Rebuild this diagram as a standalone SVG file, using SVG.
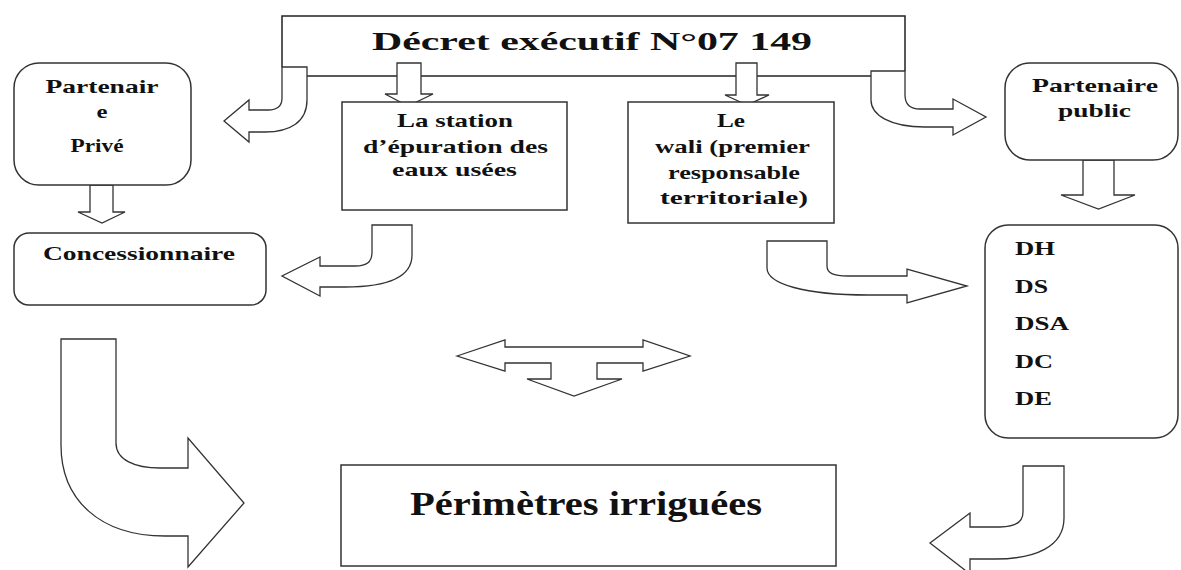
<svg xmlns="http://www.w3.org/2000/svg" width="1181" height="570" viewBox="0 0 1181 570">
<style>
.box{fill:#fff;stroke:#333;stroke-width:1.5}
.arr{fill:#fff;stroke:#333;stroke-width:1.3;stroke-linejoin:miter}
.ln{fill:none;stroke:#222;stroke-width:1.5}
text{font-family:"Liberation Serif","Times New Roman",serif;font-weight:bold;fill:#111}
.t{font-size:19.5px}
.c{text-anchor:middle}
</style>
<rect width="1181" height="570" fill="#fff"/>
<g id="decret">
<path class="ln" d="M282,67 L282,16 L905,16 L905,71"/>
<text x="372" y="50" font-size="26" textLength="440" lengthAdjust="spacingAndGlyphs">Décret exécutif N°07 149</text>
</g>
<g id="connectors">
<path class="ln" d="M307,76 L871,76"/>
<path class="arr" d="M282,67 L307,67 L307,100 C307,122 290,132 265,132 L249,132 L249,142 L224,121 L249,100 L249,110 L268,110 C278,110 282,105 282,98 Z"/>
<path class="arr" d="M397,63 L421,63 L421,94 L433,94 L408,106 L385,94 L397,94 Z"/>
<path class="arr" d="M736,63 L757,63 L757,95 L769,95 L747,105 L725,95 L736,95 Z"/>
<path class="arr" d="M871,71 L905,71 L905,95 C905,104 910,109 920,109 L953,109 L953,99 L986,117 L953,135 L953,127 L925,127 C890,127 871,115 871,100 Z"/>
<path class="arr" d="M90,185 L113,185 L113,212 L125,212 L102,223 L78,212 L90,212 Z"/>
<path class="arr" d="M1083,160 L1114,160 L1114,195 L1135,195 L1098.5,209 L1061,195 L1083,195 Z"/>
<path class="arr" d="M372,225 L412,225 L412,255 C412,279 385,287 345,287 L320,287 L320,296 L282,276 L320,257 L320,266 L355,266 C367,266 372,262 372,252 Z"/>
<path class="arr" d="M767,241 L827,241 L827,266 C827,273 833,276 848,276 L907,276 L907,269 L967,286 L907,303 L907,295 L868,295 C805,295 767,284 767,268 Z"/>
<path class="arr" d="M457,356 L505,340 L505,347 L643,347 L643,340 L690,356 L643,371 L643,363 L597,363 L597,379 L622,379 L574,396 L527,379 L551,379 L551,363 L505,363 L505,371 Z"/>
<path class="arr" d="M61,339 L116,339 L116,443 C116,460 135,468 160,468 L188,468 L188,438 L244,503 L188,567 L188,536 L165,536 C100,536 61,500 61,445 Z"/>
<path class="arr" d="M1023,466 L1064,466 L1064,518 C1064,547 1035,559 995,559 L970,559 L970,574 L930,543 L970,513 L970,527 L1000,527 C1015,527 1023,522 1023,512 Z"/>
</g>
<g id="partenaire-prive">
<rect class="box" x="14" y="63" width="177" height="122" rx="25"/>
<text class="t c" x="102" y="93" textLength="113" lengthAdjust="spacingAndGlyphs">Partenair</text>
<text class="t c" x="102" y="118" textLength="11" lengthAdjust="spacingAndGlyphs">e</text>
<text class="t c" x="97" y="152" textLength="53" lengthAdjust="spacingAndGlyphs">Privé</text>
</g>
<g id="concessionnaire">
<rect class="box" x="14" y="233" width="252" height="72" rx="15"/>
<text class="t" x="43" y="260" textLength="192" lengthAdjust="spacingAndGlyphs">Concessionnaire</text>
</g>
<g id="station">
<rect class="box" x="342" y="102" width="225" height="108"/>
<text class="t" x="397" y="127" textLength="116" lengthAdjust="spacingAndGlyphs">La station</text>
<text class="t" x="363" y="153" textLength="185" lengthAdjust="spacingAndGlyphs">d’épuration des</text>
<text class="t" x="392" y="176" textLength="125" lengthAdjust="spacingAndGlyphs">eaux usées</text>
</g>
<g id="wali">
<rect class="box" x="628" y="102" width="206" height="121"/>
<text class="t" x="717" y="127" textLength="28" lengthAdjust="spacingAndGlyphs">Le</text>
<text class="t" x="655" y="153" textLength="155" lengthAdjust="spacingAndGlyphs">wali (premier</text>
<text class="t" x="668" y="179" textLength="132" lengthAdjust="spacingAndGlyphs">responsable</text>
<text class="t" x="660" y="204" textLength="148" lengthAdjust="spacingAndGlyphs">territoriale)</text>
</g>
<g id="partenaire-public">
<rect class="box" x="1005" y="63" width="173" height="97" rx="25"/>
<text class="t" x="1032" y="92" textLength="126" lengthAdjust="spacingAndGlyphs">Partenaire</text>
<text class="t" x="1058" y="117" textLength="73" lengthAdjust="spacingAndGlyphs">public</text>
</g>
<g id="directions">
<rect class="box" x="985" y="225" width="193" height="213" rx="23"/>
<text class="t" x="1015" y="255" font-size="18" textLength="40" lengthAdjust="spacingAndGlyphs">DH</text>
<text class="t" x="1015" y="293" font-size="18" textLength="33" lengthAdjust="spacingAndGlyphs">DS</text>
<text class="t" x="1015" y="330" font-size="18" textLength="54" lengthAdjust="spacingAndGlyphs">DSA</text>
<text class="t" x="1015" y="368" font-size="18" textLength="38" lengthAdjust="spacingAndGlyphs">DC</text>
<text class="t" x="1015" y="405" font-size="18" textLength="37" lengthAdjust="spacingAndGlyphs">DE</text>
</g>
<g id="perimetres">
<rect class="box" x="341" y="465" width="495" height="101"/>
<text x="410" y="515" font-size="33" textLength="352" lengthAdjust="spacingAndGlyphs">Périmètres irriguées</text>
</g>
</svg>
